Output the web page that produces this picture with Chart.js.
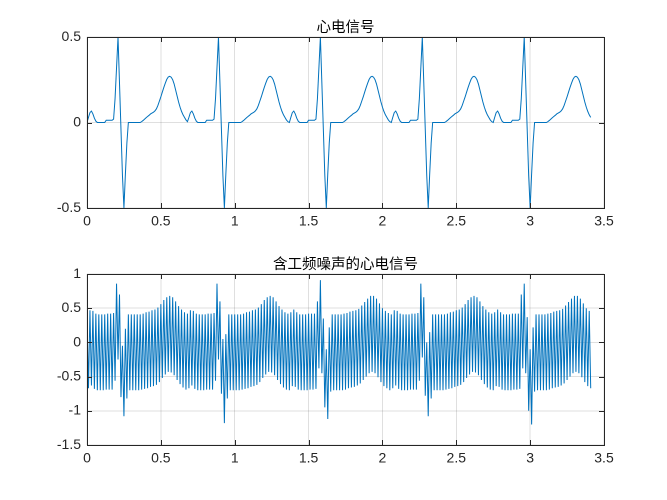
<!DOCTYPE html>
<html>
<head>
<meta charset="utf-8">
<script src="https://cdn.jsdelivr.net/npm/chart.js@4.4.0/dist/chart.umd.min.js"></script>
<style>
body { margin: 0; background: #fff; width: 667px; height: 500px; overflow: hidden; }
.plot { position: absolute; left: 0; width: 667px; height: 238px; }
</style>
</head>
<body>
<div class="plot" style="top:0px"><canvas id="ecg-chart"></canvas></div>
<div class="plot" style="top:237px"><canvas id="noise-chart"></canvas></div>
<script>
// sampling step of both signals (s)
const dt = 0.01

const ecg_title = '心电信号'
const noise_title = '含工频噪声的心电信号'

const x_ticks = [0, 0.5, 1, 1.5, 2, 2.5, 3, 3.5]
const ecg_y_ticks = [-0.5, 0, 0.5]
const noise_y_ticks = [-1.5, -1, -0.5, 0, 0.5, 1]

// clean ECG
const ecg = [
    0, 0.03, 0.058, 0.067, 0.05, 0.025, 0.008, 0, 0, 0,
    0, 0, 0, 0.013, 0.013, 0.013, 0.013, 0.013, 0.02, 0.14,
    0.32, 0.5, 0.23, -0.04, -0.31, -0.5, -0.3, -0.12, 0, 0,
    0, 0, 0, 0, 0, 0, 0, 0.005, 0.012, 0.02,
    0.028, 0.035, 0.042, 0.05, 0.055, 0.06, 0.068, 0.08, 0.1, 0.125,
    0.15, 0.178, 0.205, 0.23, 0.252, 0.266, 0.27, 0.265, 0.25, 0.225,
    0.19, 0.155, 0.12, 0.09, 0.065, 0.045, 0.03, 0.015, 0.005, 0.03,
    0.058, 0.067, 0.05, 0.025, 0.008, 0, 0, 0, 0, 0,
    0, 0.013, 0.013, 0.013, 0.013, 0.013, 0.02, 0.14, 0.32, 0.5,
    0.23, -0.04, -0.31, -0.5, -0.3, -0.12, 0, 0, 0, 0,
    0, 0, 0, 0, 0, 0.005, 0.012, 0.02, 0.028, 0.035,
    0.042, 0.05, 0.055, 0.06, 0.068, 0.08, 0.1, 0.125, 0.15, 0.178,
    0.205, 0.23, 0.252, 0.266, 0.27, 0.265, 0.25, 0.225, 0.19, 0.155,
    0.12, 0.09, 0.065, 0.045, 0.03, 0.015, 0.005, 0, 0.03, 0.058,
    0.067, 0.05, 0.025, 0.008, 0, 0, 0, 0, 0, 0,
    0.013, 0.013, 0.013, 0.013, 0.013, 0.02, 0.14, 0.32, 0.5, 0.23,
    -0.04, -0.31, -0.5, -0.3, -0.12, 0, 0, 0, 0, 0,
    0, 0, 0, 0, 0.005, 0.012, 0.02, 0.028, 0.035, 0.042,
    0.05, 0.055, 0.06, 0.068, 0.08, 0.1, 0.125, 0.15, 0.178, 0.205,
    0.23, 0.252, 0.266, 0.27, 0.265, 0.25, 0.225, 0.19, 0.155, 0.12,
    0.09, 0.065, 0.045, 0.03, 0.015, 0.005, 0, 0.03, 0.058, 0.067,
    0.05, 0.025, 0.008, 0, 0, 0, 0, 0, 0, 0.013,
    0.013, 0.013, 0.013, 0.013, 0.02, 0.14, 0.32, 0.5, 0.23, -0.04,
    -0.31, -0.5, -0.3, -0.12, 0, 0, 0, 0, 0, 0,
    0, 0, 0, 0.005, 0.012, 0.02, 0.028, 0.035, 0.042, 0.05,
    0.055, 0.06, 0.068, 0.08, 0.1, 0.125, 0.15, 0.178, 0.205, 0.23,
    0.252, 0.266, 0.27, 0.265, 0.25, 0.225, 0.19, 0.155, 0.12, 0.09,
    0.065, 0.045, 0.03, 0.015, 0.005, 0, 0.03, 0.058, 0.067, 0.05,
    0.025, 0.008, 0, 0, 0, 0, 0, 0, 0.013, 0.013,
    0.013, 0.013, 0.013, 0.02, 0.14, 0.32, 0.5, 0.23, -0.04, -0.31,
    -0.5, -0.3, -0.12, 0, 0, 0, 0, 0, 0, 0,
    0, 0, 0.005, 0.012, 0.02, 0.028, 0.035, 0.042, 0.05, 0.055,
    0.06, 0.068, 0.08, 0.1, 0.125, 0.15, 0.178, 0.205, 0.23, 0.252,
    0.266, 0.27, 0.265, 0.25, 0.225, 0.19, 0.155, 0.12, 0.09, 0.065,
    0.045, 0.03
]

// ECG with 50 Hz hum
const ecg_noise = [
    0.41, -0.67, 0.47, -0.63, 0.46, -0.68, 0.42, -0.70, 0.41, -0.70,
    0.41, -0.70, 0.41, -0.69, 0.42, -0.69, 0.42, -0.69, 0.43, -0.56,
    0.86, -0.25, 0.70, -0.80, -0.05, -1.08, 0.20, -0.82, 0.41, -0.70,
    0.41, -0.70, 0.41, -0.70, 0.41, -0.70, 0.41, -0.69, 0.42, -0.68,
    0.44, -0.67, 0.45, -0.65, 0.47, -0.64, 0.48, -0.62, 0.51, -0.58,
    0.56, -0.52, 0.62, -0.47, 0.66, -0.43, 0.68, -0.44, 0.66, -0.48,
    0.60, -0.55, 0.53, -0.61, 0.48, -0.66, 0.44, -0.69, 0.42, -0.67,
    0.47, -0.63, 0.46, -0.68, 0.42, -0.70, 0.41, -0.70, 0.41, -0.70,
    0.41, -0.69, 0.42, -0.69, 0.42, -0.69, 0.43, -0.56, 0.86, -0.25,
    0.60, -0.75, 0.05, -1.18, 0.12, -0.82, 0.41, -0.70, 0.41, -0.70,
    0.41, -0.70, 0.41, -0.70, 0.41, -0.69, 0.42, -0.68, 0.44, -0.67,
    0.45, -0.65, 0.47, -0.64, 0.48, -0.62, 0.51, -0.58, 0.56, -0.52,
    0.62, -0.47, 0.66, -0.43, 0.68, -0.44, 0.66, -0.48, 0.60, -0.55,
    0.53, -0.61, 0.48, -0.66, 0.44, -0.69, 0.42, -0.70, 0.44, -0.64,
    0.48, -0.65, 0.44, -0.69, 0.41, -0.70, 0.41, -0.70, 0.41, -0.70,
    0.42, -0.69, 0.42, -0.69, 0.42, -0.68, 0.60, -0.38, 0.91, -0.45,
    0.35, -0.95, -0.10, -1.12, 0.22, -0.72, 0.41, -0.70, 0.41, -0.70,
    0.41, -0.70, 0.41, -0.70, 0.42, -0.69, 0.43, -0.67, 0.45, -0.66,
    0.46, -0.65, 0.47, -0.63, 0.49, -0.60, 0.54, -0.55, 0.59, -0.50,
    0.64, -0.45, 0.68, -0.43, 0.68, -0.45, 0.64, -0.51, 0.57, -0.58,
    0.50, -0.64, 0.46, -0.67, 0.43, -0.70, 0.41, -0.67, 0.47, -0.63,
    0.46, -0.68, 0.42, -0.70, 0.41, -0.70, 0.41, -0.70, 0.41, -0.69,
    0.42, -0.69, 0.42, -0.69, 0.43, -0.56, 0.86, -0.22, 0.66, -0.78,
    0.00, -1.08, 0.15, -0.82, 0.41, -0.70, 0.41, -0.70, 0.41, -0.70,
    0.41, -0.70, 0.41, -0.69, 0.42, -0.68, 0.44, -0.67, 0.45, -0.65,
    0.47, -0.64, 0.48, -0.62, 0.51, -0.58, 0.56, -0.52, 0.62, -0.47,
    0.66, -0.43, 0.68, -0.44, 0.66, -0.48, 0.60, -0.55, 0.53, -0.61,
    0.48, -0.66, 0.44, -0.69, 0.42, -0.70, 0.44, -0.64, 0.48, -0.65,
    0.44, -0.69, 0.41, -0.70, 0.41, -0.70, 0.41, -0.70, 0.42, -0.69,
    0.42, -0.69, 0.42, -0.68, 0.70, -0.38, 0.86, -0.45, 0.37, -1.00,
    -0.10, -1.20, 0.22, -0.72, 0.41, -0.70, 0.41, -0.70, 0.41, -0.70,
    0.41, -0.70, 0.42, -0.69, 0.43, -0.67, 0.45, -0.66, 0.46, -0.65,
    0.47, -0.63, 0.49, -0.60, 0.54, -0.55, 0.59, -0.50, 0.64, -0.45,
    0.68, -0.43, 0.68, -0.45, 0.64, -0.51, 0.57, -0.58, 0.50, -0.64,
    0.46, -0.67
]

const axis_color = '#262626'
const line_color = '#0072BD'
const tick_font = {family: '"Liberation Sans", Arial, sans-serif', size: 14}

// box around the axes, inward ticks and the title, like a matlab subplot
const matlab_frame = {
    id: 'matlab_frame',
    afterDraw(chart, args, opts) {
        const ctx = chart.ctx
        const a = chart.chartArea
        const sx = chart.scales.x
        const sy = chart.scales.y
        ctx.save()
        ctx.strokeStyle = axis_color
        ctx.lineWidth = 1
        ctx.beginPath()
        sx.ticks.forEach(t => {
            let px = Math.round(sx.getPixelForValue(t.value)) + 0.5
            ctx.moveTo(px, a.bottom); ctx.lineTo(px, a.bottom - 5)
            ctx.moveTo(px, a.top); ctx.lineTo(px, a.top + 5)
        })
        sy.ticks.forEach(t => {
            let py = Math.round(sy.getPixelForValue(t.value)) + 0.5
            ctx.moveTo(a.left, py); ctx.lineTo(a.left + 5, py)
            ctx.moveTo(a.right, py); ctx.lineTo(a.right - 5, py)
        })
        ctx.stroke()
        ctx.strokeRect(Math.round(a.left) + 0.5, Math.round(a.top) + 0.5,
            Math.round(a.right - a.left), Math.round(a.bottom - a.top))

        ctx.fillStyle = '#000'
        ctx.font = '14.5px "Noto Sans CJK SC", sans-serif'
        ctx.textAlign = 'center'
        ctx.textBaseline = 'alphabetic'
        ctx.fillText(opts.title, (a.left + a.right) / 2, a.top - 5)
        ctx.restore()
    }
}

function make_points(values) {
    return values.map((v, i) => ({x: +(i * dt).toFixed(2), y: v}))
}

function make_options(y_ticks, title) {
    return {
        animation: false,
        responsive: true,
        maintainAspectRatio: false,
        devicePixelRatio: 2,
        parsing: false,
        layout: {padding: {top: 37, right: 63, left: 0, bottom: 0}},
        plugins: {
            legend: {display: false},
            tooltip: {enabled: false},
            matlab_frame: {title: title}
        },
        scales: {
            x: {
                type: 'linear',
                min: x_ticks[0],
                max: x_ticks[x_ticks.length - 1],
                afterBuildTicks: s => { s.ticks = x_ticks.map(v => ({value: v})) },
                afterFit: s => { s.height = 30; s.paddingLeft = 0; s.paddingRight = 0 },
                ticks: {
                    callback: v => String(v),
                    font: tick_font,
                    color: axis_color,
                    padding: 5,
                    maxRotation: 0,
                    autoSkip: false
                },
                grid: {color: 'rgba(38,38,38,0.15)', drawTicks: false},
                border: {display: false}
            },
            y: {
                type: 'linear',
                min: y_ticks[0],
                max: y_ticks[y_ticks.length - 1],
                afterBuildTicks: s => { s.ticks = y_ticks.map(v => ({value: v})) },
                afterFit: s => { s.width = 87; s.paddingTop = 0; s.paddingBottom = 0 },
                ticks: {
                    callback: v => String(v),
                    font: tick_font,
                    color: axis_color,
                    padding: 6,
                    autoSkip: false
                },
                grid: {color: 'rgba(38,38,38,0.15)', drawTicks: false},
                border: {display: false}
            }
        }
    }
}

function make_dataset(values) {
    return {
        data: make_points(values),
        borderColor: line_color,
        borderWidth: 1,
        pointRadius: 0,
        tension: 0,
        fill: false
    }
}

let ecg_chart = new Chart(document.getElementById('ecg-chart'), {
    type: 'line',
    data: {datasets: [make_dataset(ecg)]},
    options: make_options(ecg_y_ticks, ecg_title),
    plugins: [matlab_frame]
})

let noise_chart = new Chart(document.getElementById('noise-chart'), {
    type: 'line',
    data: {datasets: [make_dataset(ecg_noise)]},
    options: make_options(noise_y_ticks, noise_title),
    plugins: [matlab_frame]
})
</script>
</body>
</html>
